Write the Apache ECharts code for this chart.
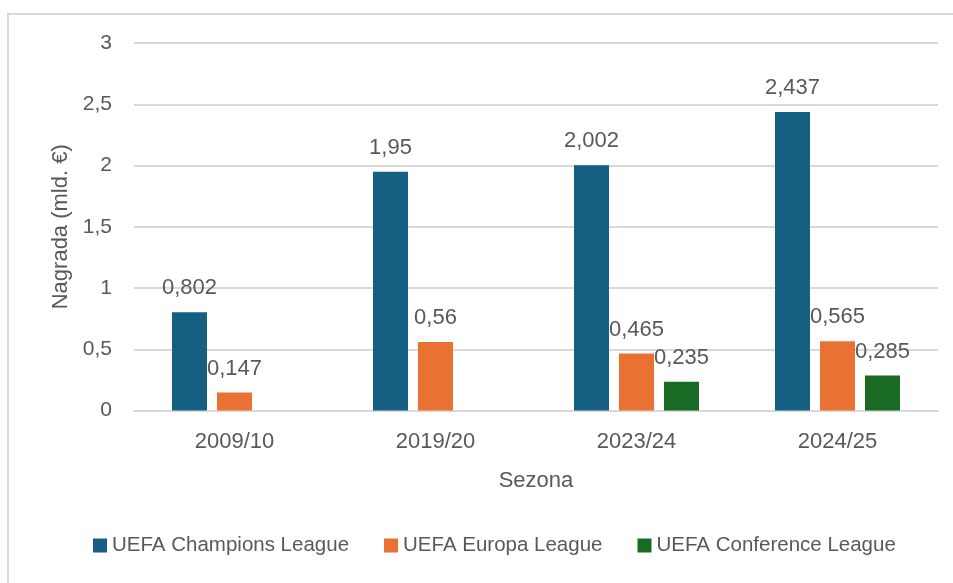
<!DOCTYPE html>
<html><head><meta charset="utf-8">
<script src="https://cdn.jsdelivr.net/npm/echarts@6/dist/echarts.min.js"></script>
<style>
html,body{margin:0;padding:0;background:#fff;}
#frame{position:absolute;left:7px;top:13px;width:960px;height:600px;border:2px solid #d9d9d9;box-sizing:border-box;}
#c{position:absolute;left:0;top:0;width:953px;height:583px;}
</style></head>
<body><div id="frame"></div><div id="c"></div>
<script>
const categories = ['2009/10','2019/20','2023/24','2024/25'];
const championsLeague = [0.802, 1.95, 2.002, 2.437];
const europaLeague = [0.147, 0.56, 0.465, 0.565];
const conferenceLeague = [null, null, 0.235, 0.285];
const seriesNames = ['UEFA Champions League','UEFA Europa League','UEFA Conference League'];
const colors = ['#156082','#E97132','#196B24'];
const font = 'Liberation Sans, Arial, sans-serif';
const txt = '#595959';
const fmt = v => String(v.value).replace('.', ',');
function mk(name, data, color){
  return {name, type:'bar', data, barWidth:35, barGap:'28.6%',
    itemStyle:{color},
    label:{show:true, position:'top', distance:13, color:txt, fontSize:22, fontFamily:font, formatter:fmt}};
}
const chart = echarts.init(document.getElementById('c'));
chart.setOption({
  animation:false,
  color:colors,
  grid:{left:134, right:15, top:43, bottom:172.5, containLabel:false},
  xAxis:{type:'category', data:categories, name:'Sezona', nameLocation:'middle', nameGap:59,
    nameTextStyle:{color:txt, fontSize:22, fontFamily:font},
    axisLine:{lineStyle:{color:'#d9d9d9', width:2}}, axisTick:{show:false},
    axisLabel:{color:txt, fontSize:22, fontFamily:font, margin:20}},
  yAxis:{type:'value', min:0, max:3, interval:0.5, name:'Nagrada (mld. €)', nameLocation:'middle', nameGap:60,
    nameTextStyle:{color:txt, fontSize:22, fontFamily:font},
    axisLabel:{color:txt, fontSize:21, fontFamily:font, margin:22, formatter:v=>String(v).replace('.', ',')},
    splitLine:{lineStyle:{color:'#d9d9d9', width:2}}},
  legend:{bottom:22, left:88, itemWidth:14, itemHeight:14, itemGap:35, icon:'rect',
    textStyle:{color:txt, fontSize:20.5, fontFamily:font}},
  series:[mk(seriesNames[0], championsLeague, colors[0]), mk(seriesNames[1], europaLeague, colors[1]), mk(seriesNames[2], conferenceLeague, colors[2])]
});
</script></body></html>
